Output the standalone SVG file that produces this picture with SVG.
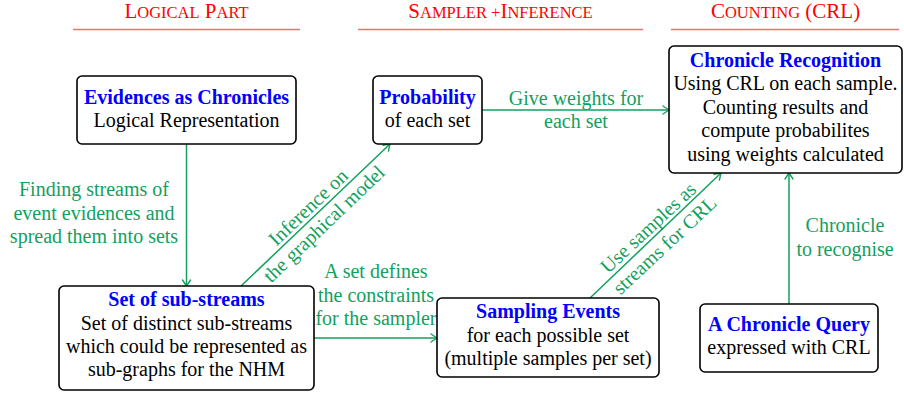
<svg xmlns="http://www.w3.org/2000/svg" width="904" height="394" viewBox="0 0 904 394">
<defs>
<style>
.box{fill:#fff;stroke:#000;stroke-width:1.6}
.t{font-size:20px;text-anchor:middle}
.b{font-weight:bold;fill:#0000ff}
.k{fill:#000}
.g{fill:#13a05e}
.c{stroke:#13a05e;stroke-width:1.5;fill:none;marker-end:url(#arr)}
.hd{fill:#ff0000;font-size:21px}
.sc{font-size:16.5px}
.hl{stroke:#ff6a6a;stroke-width:1.6}
</style>
<marker id="arr" markerUnits="userSpaceOnUse" markerWidth="12" markerHeight="12" viewBox="-8 -6 10 12" refX="0" refY="0" orient="auto">
<path d="M-6,-4 L0,0 L-6,4" fill="none" stroke="#13a05e" stroke-width="1.4" stroke-linecap="round" stroke-linejoin="round"/>
</marker>
</defs>
<rect width="904" height="394" fill="#fff"/>

<g font-family="Liberation Serif, serif">
<g id="headers">
<text class="t hd" x="186.5" y="18">L<tspan class="sc">OGICAL</tspan> P<tspan class="sc">ART</tspan></text>
<line class="hl" x1="73" y1="29.5" x2="300" y2="29.5"/>
<text class="t hd" x="500.5" y="18">S<tspan class="sc">AMPLER +</tspan>I<tspan class="sc">NFERENCE</tspan></text>
<line class="hl" x1="358" y1="29.5" x2="643" y2="29.5"/>
<text class="t hd" x="785.5" y="18">C<tspan class="sc">OUNTING</tspan> (CRL)</text>
<line class="hl" x1="671" y1="29.5" x2="899" y2="29.5"/>
</g>

<g id="connectors">
<path class="c" d="M186.5,144 V286"/>
<path class="c" d="M241,286 L390,144"/>
<path class="c" d="M482,110 H669"/>
<path class="c" d="M314,338 H437"/>
<path class="c" d="M590,298 L721,173"/>
<path class="c" d="M789,304 V173"/>
<text class="t g" x="94" y="196">Finding streams of</text>
<text class="t g" x="94" y="220">event evidences and</text>
<text class="t g" x="94" y="243">spread them into sets</text>
<text class="t g" x="576" y="105">Give weights for</text>
<text class="t g" x="576" y="128">each set</text>
<text class="t g" x="376" y="278">A set defines</text>
<text class="t g" x="376" y="302">the constraints</text>
<text class="t g" x="376" y="325">for the sampler</text>
<text class="t g" x="845" y="232">Chronicle</text>
<text class="t g" x="845" y="256">to recognise</text>
<g transform="translate(315.5,215) rotate(-43.6)">
<text class="t g" x="0" y="-4">Inference on</text>
<text class="t g" x="0" y="19">the graphical model</text>
</g>
<g transform="translate(655.5,235.5) rotate(-43)">
<text class="t g" x="0" y="-4">Use samples as</text>
<text class="t g" x="0" y="20">streams for CRL</text>
</g>
</g>

<g id="evidences">
<rect class="box" x="77" y="76" width="219" height="68" rx="5"/>
<text class="t b" x="186.5" y="104">Evidences as Chronicles</text>
<text class="t k" x="186.5" y="127">Logical Representation</text>
</g>

<g id="probability">
<rect class="box" x="373" y="76" width="109" height="68" rx="5"/>
<text class="t b" x="427.5" y="104">Probability</text>
<text class="t k" x="427.5" y="127">of each set</text>
</g>

<g id="recognition">
<rect class="box" x="669" y="46" width="233" height="127" rx="5"/>
<text class="t b" x="785.5" y="67">Chronicle Recognition</text>
<text class="t k" x="785.5" y="90">Using CRL on each sample.</text>
<text class="t k" x="785.5" y="114">Counting results and</text>
<text class="t k" x="785.5" y="137">compute probabilites</text>
<text class="t k" x="785.5" y="161">using weights calculated</text>
</g>

<g id="substreams">
<rect class="box" x="59" y="286" width="255" height="104" rx="5"/>
<text class="t b" x="186.5" y="306">Set of sub-streams</text>
<text class="t k" x="186.5" y="330">Set of distinct sub-streams</text>
<text class="t k" x="186.5" y="353">which could be represented as</text>
<text class="t k" x="186.5" y="376">sub-graphs for the NHM</text>
</g>

<g id="sampling">
<rect class="box" x="437" y="298" width="222" height="79" rx="5"/>
<text class="t b" x="548" y="318">Sampling Events</text>
<text class="t k" x="548" y="342">for each possible set</text>
<text class="t k" x="548" y="365">(multiple samples per set)</text>
</g>

<g id="query">
<rect class="box" x="700" y="304" width="178" height="68" rx="5"/>
<text class="t b" x="789" y="331">A Chronicle Query</text>
<text class="t k" x="789" y="354">expressed with CRL</text>
</g>
</g>
</svg>
